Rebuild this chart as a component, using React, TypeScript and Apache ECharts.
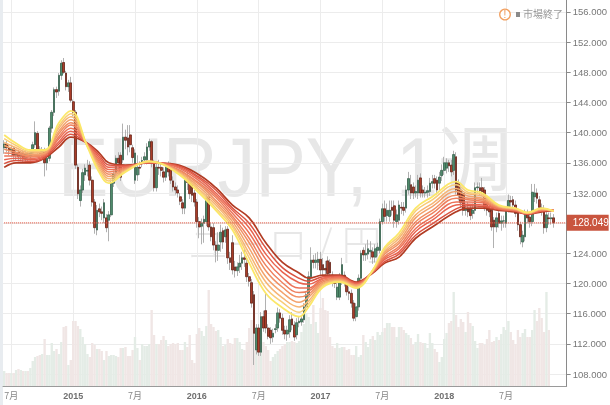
import React, { useEffect, useRef } from "react";
import * as echarts from "echarts";

const slotCount = 237;
const tickLabels: Record<number, string> = { 3: "7月", 29: "2015", 55: "7月", 81: "2016", 107: "7月", 133: "2017", 159: "7月", 185: "2018", 211: "7月" };
const priceTicks = [108, 112, 116, 120, 124, 128, 132, 136, 140, 144, 148, 152, 156];
const priceLabelTicks = [108, 112, 116, 120, 124, 132, 136, 140, 144, 148, 152, 156];
const lastPrice = 128.049;

// open, close, low, high
const ohlc = [
[138.0,138.5,137.2,139.0],[138.5,138.0,137.4,138.9],[138.0,137.6,137.0,138.5],[137.6,137.9,136.8,138.4],[137.9,137.0,136.4,138.2],
[137.0,137.3,136.3,137.8],[137.4,136.8,136.2,137.7],[136.8,137.2,136.2,137.6],[137.2,136.6,136.0,137.6],[136.6,137.2,136.1,137.6],
[137.2,136.8,136.2,137.6],[136.8,137.3,136.3,137.8],[137.3,138.4,136.8,138.8],[138.4,140.0,138.0,141.5],[139.9,137.8,136.8,140.2],
[137.8,137.2,136.6,138.2],[137.2,137.7,136.7,138.1],[137.7,136.0,134.2,138.0],[136.0,136.6,135.0,137.0],[136.6,140.6,136.2,140.9],
[140.6,142.7,140.0,143.0],[142.7,145.7,142.2,146.0],[145.7,145.4,144.6,146.1],[145.5,147.6,144.9,147.9],[147.6,149.2,147.0,149.6],
[149.3,148.0,147.8,149.9],[147.9,146.1,145.6,148.2],[146.1,146.6,145.4,147.0],[146.6,144.3,144.0,147.4],[144.1,142.7,142.2,144.4],
[142.7,135.7,135.2,143.0],[135.4,131.9,131.2,135.8],[131.0,132.4,130.2,133.0],[132.4,134.7,132.0,135.2],[134.4,135.3,133.6,135.8],
[134.9,135.0,134.2,136.4],[135.7,133.7,133.0,136.2],[133.7,130.8,130.2,134.2],[130.8,127.4,126.6,131.2],[127.1,129.7,126.4,130.4],
[129.9,129.5,128.8,130.6],[129.5,129.3,128.4,130.2],[128.7,130.7,128.0,131.2],[128.7,127.4,126.8,129.2],[128.4,129.1,125.6,129.6],
[129.1,133.3,128.8,133.8],[133.3,134.5,132.8,135.0],[134.7,136.6,134.0,137.0],[136.6,136.0,135.2,137.4],[137.0,134.1,133.6,137.4],
[136.4,139.4,136.0,141.2],[139.4,139.0,137.8,140.4],[139.3,138.1,137.0,141.0],[139.7,138.4,137.4,141.0],[138.0,136.7,136.0,138.4],
[133.7,137.3,133.2,137.8],[134.4,135.4,133.6,137.0],[135.4,135.3,134.4,136.2],[136.0,136.3,135.4,136.8],[136.4,136.8,135.8,137.4],
[136.4,138.1,135.8,138.6],[138.1,138.8,137.6,139.2],[138.8,136.1,135.4,139.0],[136.0,132.7,132.2,136.4],[132.7,135.4,132.2,136.2],
[135.4,135.3,134.4,136.4],[135.4,135.0,134.2,136.0],[134.8,134.1,133.4,135.4],[134.1,135.4,133.6,136.0],[135.4,134.8,134.2,136.2],
[135.4,133.7,133.2,136.0],[133.6,132.8,132.2,134.2],[132.8,132.4,131.8,133.4],[132.4,132.0,131.4,133.0],[131.5,130.9,130.4,132.0],
[130.7,130.0,129.2,131.2],[130.0,133.7,129.2,134.2],[133.7,133.4,132.4,134.8],[133.6,131.9,131.2,134.2],[133.1,131.7,130.8,133.6],
[132.0,130.8,130.2,132.4],[130.8,128.2,127.4,131.2],[128.2,127.5,126.0,128.8],[127.6,128.0,125.2,128.6],[128.0,128.5,125.4,129.0],
[128.2,131.3,127.6,131.8],[131.4,127.5,127.0,131.8],[127.5,126.2,125.6,128.0],[127.4,125.1,124.4,128.0],[125.1,124.4,122.8,125.6],
[124.4,125.1,123.0,126.8],[125.5,126.8,124.2,127.8],[127.0,125.5,124.6,127.4],[126.2,127.1,125.4,127.6],[127.2,123.4,122.6,127.6],
[123.4,122.8,121.8,124.2],[125.4,121.8,121.2,126.4],[122.2,121.7,120.8,123.0],[121.7,122.2,121.0,122.8],[122.2,122.7,121.4,123.8],
[122.7,123.4,121.8,124.2],[123.4,123.2,122.2,124.6],[122.7,120.9,120.2,123.6],[120.9,120.3,119.6,121.4],[120.1,117.4,116.8,120.6],
[118.5,113.4,109.2,119.0],[111.2,114.1,110.6,114.6],[114.1,110.9,110.4,114.6],[110.9,115.6,110.4,116.2],[115.6,114.1,113.6,116.4],
[116.4,114.1,113.4,118.6],[114.1,113.0,112.6,114.6],[113.8,112.8,112.0,114.2],[112.9,113.4,112.2,114.0],[113.9,114.0,113.4,114.6],
[114.1,116.1,113.6,116.8],[116.1,115.4,114.8,116.6],[115.4,113.8,113.2,116.0],[113.8,113.3,112.6,114.4],[113.3,113.8,112.4,114.4],
[113.6,115.2,112.8,115.8],[115.3,114.5,113.8,116.2],[114.5,112.9,112.4,115.0],[113.2,114.8,112.6,115.4],[114.8,115.0,114.2,115.6],
[114.9,115.3,114.4,115.8],[115.2,116.9,114.8,117.4],[116.9,118.5,116.4,119.0],[118.5,120.9,118.0,121.6],[120.9,123.1,120.4,124.8],
[123.1,122.8,122.0,123.8],[122.8,123.1,122.0,124.0],[122.8,123.2,121.8,124.2],[123.2,121.8,121.0,124.2],[122.5,121.8,121.0,123.4],
[122.0,121.8,121.0,123.0],[123.0,121.3,120.8,123.6],[122.8,121.4,120.8,123.2],[121.1,120.2,119.6,121.6],[120.2,120.0,119.4,120.8],
[118.2,119.5,117.8,120.2],[118.2,120.9,117.8,121.4],[120.2,122.5,119.8,123.4],[121.1,120.2,119.6,121.6],[120.2,118.9,118.4,120.8],
[118.9,118.7,117.8,119.6],[118.7,117.4,116.8,119.2],[117.4,115.4,115.0,117.8],[115.6,116.9,115.0,117.4],[116.9,120.7,116.4,121.2],
[120.7,124.0,120.2,124.4],[124.4,123.8,123.0,124.8],[123.8,124.0,123.0,125.2],[123.9,124.6,123.2,125.8],[124.2,124.4,123.2,125.6],
[124.2,123.5,122.6,124.8],[123.5,124.6,122.8,125.2],[124.4,124.8,123.6,125.4],[124.4,128.2,124.0,128.6],[128.2,129.9,127.8,130.6],
[129.9,128.9,128.2,131.0],[129.0,129.7,128.2,130.6],[128.9,129.7,128.2,131.0],[130.1,129.7,129.0,131.0],[130.3,128.4,127.4,131.0],
[128.2,129.1,127.4,129.8],[128.4,130.4,127.8,131.0],[130.1,130.0,129.2,130.8],[130.1,129.7,129.0,130.8],[130.0,132.4,129.4,133.0],
[132.4,133.9,131.8,134.8],[133.1,132.0,131.2,134.4],[132.8,132.0,131.2,133.4],[132.0,132.2,131.4,133.0],[132.0,133.7,131.2,134.4],
[134.0,132.0,131.4,134.6],[132.4,132.0,131.4,133.0],[132.0,132.1,131.4,132.8],[132.1,132.3,131.4,133.0],[132.2,133.3,131.6,134.0],
[133.3,133.5,132.6,134.4],[133.9,133.3,132.6,134.4],[133.7,132.4,131.8,134.2],[133.3,134.1,132.4,134.8],[134.3,135.0,133.6,135.8],
[135.0,136.0,134.4,136.8],[135.3,136.0,134.6,136.6],[136.0,135.6,134.8,136.4],[135.7,134.8,134.2,136.4],[135.0,137.1,134.4,137.6],
[136.8,132.4,131.8,137.4],[133.3,131.7,131.0,133.8],[132.4,130.7,130.0,133.0],[131.9,129.7,129.0,132.4],[129.7,129.9,129.0,130.6],
[129.9,129.5,128.8,130.8],[129.9,129.0,128.4,130.4],[129.3,129.7,128.6,130.6],[129.7,132.7,129.2,133.4],[132.7,132.8,132.0,133.4],
[132.7,132.3,131.6,133.4],[132.7,132.2,131.6,134.0],[132.4,130.1,129.6,132.8],[130.8,129.7,129.0,131.4],[129.9,129.5,128.8,130.4],
[129.7,127.5,127.0,130.2],[128.4,127.5,124.7,128.8],[127.5,128.7,126.8,129.4],[129.3,128.0,127.4,129.8],[128.0,128.3,127.0,129.0],
[128.3,128.3,127.4,129.0],[128.0,129.5,127.4,130.0],[130.0,131.0,129.4,131.8],[131.0,130.8,130.0,131.6],[131.1,130.4,129.8,131.6],
[130.4,129.3,128.8,131.0],[129.5,127.8,127.0,130.0],[127.8,126.2,125.2,128.2],[125.5,126.4,124.8,127.0],[126.2,129.3,125.6,129.8],
[129.3,128.7,128.0,129.8],[128.8,128.2,127.4,129.4],[128.2,132.1,127.6,133.2],[131.5,132.0,130.8,133.2],[132.0,131.3,130.6,132.6],
[131.1,130.1,129.4,131.6],[130.0,129.8,129.0,130.6],[129.9,127.4,126.6,130.4],[127.4,129.1,126.8,129.6],[128.7,128.6,127.8,129.4],
[128.6,128.7,127.8,129.4],[128.7,128.05,127.4,129.2]
];

const volumes = [
15,13,13,13,13,16,17,16,15,15,15,18,25,29,30,31,32,47,31,31,43,35,37,32,44,59,60,21,26,65,65,60,57,49,42,32,29,43,41,37,37,35,26,35,30,31,31,30,29,38,38,39,30,30,36,49,38,26,42,40,40,42,76,51,42,42,46,50,46,40,42,43,42,43,36,36,44,39,51,26,23,52,58,55,50,60,96,62,59,55,56,49,40,41,47,43,42,48,48,44,37,36,44,58,66,60,40,44,53,44,40,36,25,29,32,35,37,40,42,44,44,45,44,43,45,
54,62,73,69,62,81,64,53,78,88,76,75,49,40,38,43,38,39,39,36,37,31,31,40,29,31,51,44,39,47,50,46,54,51,54,58,63,63,59,59,49,59,59,56,53,51,48,41,44,52,44,43,43,38,53,43,37,34,24,29,47,53,63,65,94,71,59,67,64,54,74,63,60,45,38,43,43,41,47,56,44,45,49,46,52,59,56,65,54,46,42,56,49,53,57,49,49,56,76,65,78,68,54,94,56
];

const ribbonWeeks = [0,5,11,17,23,28,35,40,44,51,61,72,82,89,96,103,110,117,124,128,134,141,148,155,160,166,173,180,190,195,201,208,215,220,226,231];
// one row per week above, fastest average first
const ribbonRows = [
[139.7,139.2,138.7,138.3,137.8,137.3,136.9,136.4,135.9,135.4],
[138.6,138.3,138.0,137.7,137.4,137.2,136.9,136.6,136.3,136.0],
[137.7,137.5,137.3,137.1,136.9,136.8,136.6,136.4,136.2,136.0],
[137.7,137.6,137.5,137.3,137.2,137.1,137.0,136.9,136.7,136.6],
[141.3,140.9,140.6,140.2,139.9,139.5,139.2,138.8,138.5,138.1],
[142.9,142.5,142.1,141.7,141.3,141.0,140.6,140.2,139.8,139.4],
[138.1,138.2,138.2,138.3,138.3,138.4,138.4,138.5,138.5,138.6],
[134.7,135.0,135.3,135.6,135.9,136.1,136.4,136.7,137.0,137.3],
[133.3,133.6,133.9,134.2,134.5,134.8,135.1,135.4,135.7,136.0],
[134.8,134.9,135.0,135.1,135.2,135.3,135.4,135.5,135.6,135.7],
[136.2,136.2,136.2,136.1,136.1,136.1,136.1,136.0,136.0,136.0],
[134.8,134.9,135.0,135.1,135.2,135.3,135.5,135.6,135.7,135.8],
[132.0,132.3,132.5,132.8,133.1,133.3,133.6,133.9,134.1,134.4],
[129.7,130.0,130.4,130.7,131.0,131.4,131.7,132.0,132.4,132.7],
[127.1,127.5,127.8,128.2,128.6,128.9,129.3,129.7,130.0,130.4],
[122.7,123.4,124.0,124.7,125.4,126.0,126.7,127.4,128.0,128.7],
[118.7,119.4,120.2,120.9,121.7,122.4,123.2,123.9,124.7,125.4],
[116.8,117.5,118.1,118.8,119.5,120.1,120.8,121.5,122.1,122.8],
[115.6,116.2,116.9,117.5,118.2,118.8,119.4,120.1,120.7,121.4],
[116.9,117.3,117.7,118.2,118.6,119.0,119.4,119.9,120.3,120.7],
[119.5,119.7,119.9,120.0,120.2,120.4,120.6,120.7,120.9,121.1],
[120.2,120.3,120.4,120.5,120.6,120.7,120.8,120.9,121.0,121.1],
[119.4,119.5,119.6,119.7,119.8,119.8,119.9,120.0,120.1,120.2],
[121.8,121.8,121.7,121.7,121.6,121.6,121.6,121.5,121.5,121.4],
[124.8,124.6,124.3,124.1,123.9,123.6,123.4,123.2,122.9,122.7],
[126.7,126.3,126.0,125.6,125.3,124.9,124.6,124.2,123.9,123.5],
[130.0,129.6,129.1,128.7,128.2,127.8,127.3,126.9,126.4,126.0],
[131.5,131.1,130.6,130.2,129.7,129.3,128.8,128.4,127.9,127.5],
[133.5,133.1,132.6,132.2,131.7,131.3,130.8,130.4,129.9,129.5],
[132.4,132.1,131.9,131.6,131.3,131.1,130.8,130.5,130.3,130.0],
[132.0,131.8,131.6,131.3,131.1,130.9,130.7,130.4,130.2,130.0],
[130.4,130.3,130.2,130.2,130.1,130.0,129.9,129.9,129.8,129.7],
[130.0,129.9,129.9,129.8,129.8,129.7,129.7,129.6,129.6,129.5],
[129.4,129.4,129.3,129.3,129.3,129.3,129.3,129.2,129.2,129.2],
[130.0,129.9,129.9,129.8,129.8,129.7,129.7,129.6,129.6,129.5],
[129.6,129.6,129.6,129.6,129.6,129.7,129.7,129.7,129.7,129.7]
];
const ribbonColors = ["#fbe768", "#f8cc78", "#f6b574", "#f3a26c", "#f09064", "#ee805e", "#ec7258", "#e86450", "#da5442", "#b23c24"];

const categories = Array.from({ length: slotCount }, (_, i) => tickLabels[i] ?? String(i));
const hasTick = (i: number) => tickLabels[i] !== undefined;
const sans = "'Liberation Sans', Arial, sans-serif";
const watermarkFont = "'Liberation Sans', 'Noto Sans CJK JP'";

export default function App() {
  const ref = useRef<HTMLDivElement>(null);
  useEffect(() => {
    document.body.style.margin = "0";
    const chart = echarts.init(ref.current!, null, { renderer: "svg" });
    const series: any[] = [
      {
        type: "bar", xAxisIndex: 0, yAxisIndex: 1, barWidth: "100%", z: 1, silent: true,
        data: volumes.map((v, i) => ({
          value: v,
          itemStyle: { color: ohlc[i] && ohlc[i][1] >= ohlc[i][0] ? "#e4ece6" : "#f0e6e5" },
        })),
      },
      {
        type: "candlestick", z: 2, barWidth: 1.6, silent: true, data: ohlc,
        itemStyle: { color: "#b0b0b0", color0: "#b0b0b0", borderColor: "#a8a8a8", borderColor0: "#a8a8a8", borderWidth: 0.9 },
      },
      {
        type: "candlestick", z: 3, barWidth: 2.2, silent: true,
        data: ohlc.map(([o, c]) => [o, c, Math.min(o, c), Math.max(o, c)]),
        itemStyle: { color: "#4f8b6b", color0: "#a93d29", borderColor: "#34604c", borderColor0: "#621f14", borderWidth: 0.7 },
      },
      ...ribbonColors.map((color, k) => ({
        type: "line", z: 4 + (ribbonColors.length - k), smooth: 0.4, symbol: "none", silent: true,
        lineStyle: { color, width: k === 0 ? 1.8 : k === 9 ? 1.7 : 1.5 },
        data: ribbonWeeks.map((w, r) => [w, ribbonRows[r][k]]),
      })),
      {
        type: "line", z: 30, symbol: "none", silent: true,
        lineStyle: { color: "#e2604c", type: [1, 1], width: 1.2 },
        data: categories.map(() => lastPrice),
        markLine: {
          silent: true, symbol: "none", animation: false,
          lineStyle: { color: "rgba(0,0,0,0)", type: "solid", width: 1 },
          label: {
            show: true, position: "end", distance: 0,
            formatter: () => lastPrice.toFixed(3),
            backgroundColor: "#c9553f", color: "#fff", fontFamily: sans, fontSize: 10,
            padding: [3, 4, 3, 6], width: 32,
          },
          data: [{ yAxis: lastPrice }],
        },
      },
    ];
    chart.setOption({
      animation: false,
      grid: { left: 3, right: 42, top: 0, bottom: 19, containLabel: false },
      xAxis: {
        type: "category", data: categories, boundaryGap: true,
        axisLine: { lineStyle: { color: "#9a9a9a", width: 1 } },
        axisTick: { interval: (i: number) => hasTick(i), alignWithLabel: true, length: 3, lineStyle: { color: "#9a9a9a" } },
        axisLabel: {
          interval: (i: number) => hasTick(i), margin: 5, hideOverlap: false,
          formatter: (v: string) => (v === "7月" ? v : `{y|${v}}`),
          color: "#888", fontSize: 9, fontFamily: "'Noto Sans CJK JP', " + sans,
          rich: { y: { fontWeight: "bold", color: "#707070", fontSize: 9, fontFamily: sans } },
        },
        splitLine: { show: true, interval: (i: number) => hasTick(i), alignWithLabel: true, lineStyle: { color: "#ececec", width: 1 } },
      },
      yAxis: [
        {
          type: "value", position: "right", min: 106.41, max: 157.59, scale: true,
          axisLine: { show: true, lineStyle: { color: "#8a8a8a", width: 1 } },
          axisTick: { show: true, length: 4, customValues: priceTicks, lineStyle: { color: "#8a8a8a" } },
          axisLabel: {
            customValues: priceLabelTicks, margin: 6, color: "#777", fontSize: 9.5, fontFamily: sans,
            formatter: (v: number) => v.toFixed(3),
          },
          splitLine: { show: true, lineStyle: { color: "#ececec", width: 1 } },
        },
        { type: "value", min: 0, max: 386, show: false, splitLine: { show: false } },
      ],
      graphic: [
        { type: "rect", z: 0, shape: { x: 0, y: 0, width: 3, height: 405 }, style: { fill: "#e8ecf0" } },
        {
          type: "text", z: 0, silent: true, x: 58, y: 125, scaleX: 0.9,
          style: { text: "EURJPY,", fill: "#e7e7e7", fontFamily: watermarkFont, fontSize: 84 },
        },
        {
          type: "text", z: 0, silent: true, x: 396, y: 125, scaleX: 0.9,
          style: { text: "1週", fill: "#e7e7e7", fontFamily: watermarkFont, fontSize: 84 },
        },
        {
          type: "text", z: 0, silent: true, x: 188, y: 222,
          style: { text: "ユーロ / 円", fill: "#e7e7e7", fontFamily: "'Noto Sans CJK JP'", fontSize: 40, fontWeight: 300 },
        },
        { type: "circle", z: 20, shape: { cx: 505, cy: 14.5, r: 5.3 }, style: { fill: "#fff", stroke: "#f2a060", lineWidth: 1.3 } },
        { type: "text", z: 21, x: 503.6, y: 9.5, style: { text: "!", fill: "#ec9454", fontSize: 10, fontFamily: sans } },
        { type: "rect", z: 21, shape: { x: 516, y: 12, width: 4, height: 5 }, style: { fill: "#8a8a8a" } },
        { type: "text", z: 21, x: 523, y: 8.5, style: { text: "市場終了", fill: "#999", fontSize: 10, fontFamily: "'Noto Sans CJK JP'" } },
      ],
      series,
    });
    return () => chart.dispose();
  }, []);
  return <div ref={ref} style={{ position: "absolute", left: 0, top: 0, width: 610, height: 405, background: "#fff", filter: "blur(0.3px)" }} />;
}
